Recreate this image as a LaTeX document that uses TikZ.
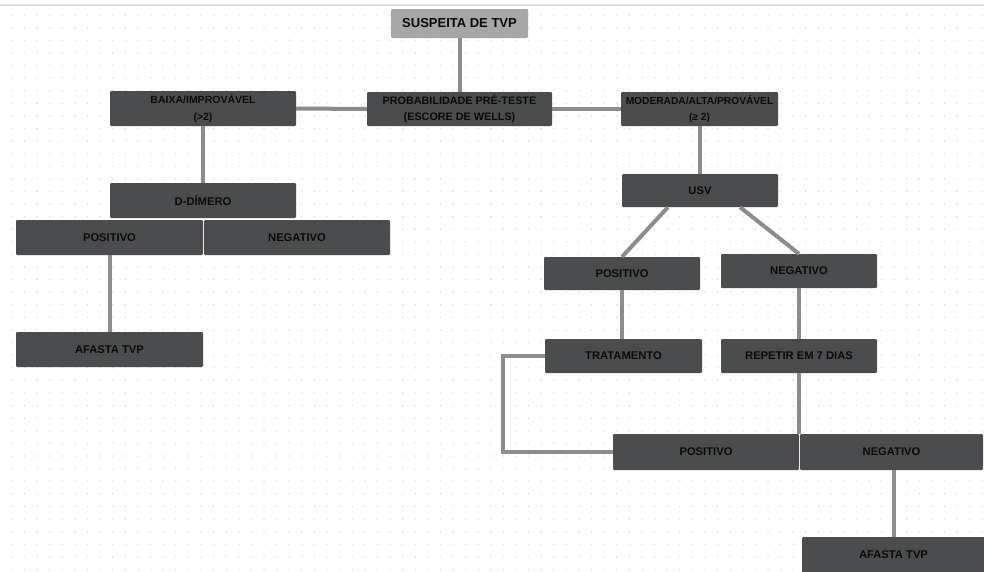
\documentclass[tikz,border=0pt]{standalone}
\usepackage{fontspec}
\setmainfont{Liberation Sans}
\usetikzlibrary{calc}
\definecolor{boxc}{HTML}{4A4C4E}
\definecolor{titlec}{HTML}{A6A6A6}
\definecolor{linec}{HTML}{8C8C8C}
\definecolor{dotc}{HTML}{D2D2D2}
\definecolor{txtc}{HTML}{0A0A0A}
\tikzset{
  box/.style={fill=boxc, draw=none, rounded corners=1.2pt, inner sep=0pt, text=txtc,
    align=center, font=\fontsize{11.2}{16.5}\selectfont\bfseries},
  titlebox/.style={box, fill=titlec, font=\fontsize{13}{15}\selectfont\bfseries},
  conn/.style={draw=linec, line width=4pt, line cap=butt}
}
\begin{document}
\begin{tikzpicture}[x=1pt,y=-1pt]
\useasboundingbox (0,0) rectangle (984,571);
\fill[white] (0,0) rectangle (984,571);
% dot grid
\foreach \i in {0,...,77} {
  \foreach \j in {0,...,44} {
    \fill[dotc] ({12+12.6*\i},{15+12.6*\j}) circle (0.75pt);
  }
}
% top line
\draw[draw=black!12, line width=1.5pt] (0,5) -- (984,5);
% nodes
\node[titlebox, minimum width=137pt, minimum height=29pt] (sus) at (459.5,23.5) {SUSPEITA DE TVP};
\node[box, minimum width=185pt, minimum height=34pt, font=\fontsize{10.8}{16.5}\selectfont\bfseries] (prob) at (459.5,109) {PROBABILIDADE PRÉ-TESTE\\(ESCORE DE WELLS)};
\node[box, minimum width=186pt, minimum height=35pt, font=\fontsize{10.5}{16.5}\selectfont\bfseries] (baixa) at (203,108.5) {BAIXA/IMPROVÁVEL\\(>2)};
\node[box, minimum width=157pt, minimum height=34pt, font=\fontsize{10.2}{16.5}\selectfont\bfseries] (mod) at (699.5,109) {MODERADA/ALTA/PROVÁVEL\\(≥ 2)};
\node[box, minimum width=156pt, minimum height=33pt] (usv) at (700,190.5) {USV};
\node[box, minimum width=186pt, minimum height=35pt] (dd) at (203,200.5) {D-DÍMERO};
\node[box, minimum width=187pt, minimum height=35pt] (pos1) at (109.5,237.5) {POSITIVO};
\node[box, minimum width=186pt, minimum height=35pt] (neg1) at (297,237.5) {NEGATIVO};
\node[box, minimum width=187pt, minimum height=35pt] (af1) at (109.5,349.5) {AFASTA TVP};
\node[box, minimum width=156pt, minimum height=33pt] (pos2) at (622,273.5) {POSITIVO};
\node[box, minimum width=156pt, minimum height=34pt] (neg2) at (799,271) {NEGATIVO};
\node[box, minimum width=157pt, minimum height=34pt] (trat) at (623.5,356) {TRATAMENTO};
\node[box, minimum width=156pt, minimum height=34pt] (rep) at (799,356) {REPETIR EM 7 DIAS};
\node[box, minimum width=186pt, minimum height=36pt] (pos3) at (706,452) {POSITIVO};
\node[box, minimum width=183pt, minimum height=36pt] (neg3) at (891.5,452) {NEGATIVO};
\node[box, minimum width=183pt, minimum height=36pt] (af2) at (893.5,555) {AFASTA TVP};
% connectors
\draw[conn] (sus.south) -- (prob.north);
\draw[conn] (baixa.east) -- (prob.west);
\draw[conn] (prob.east) -- (mod.west);
\draw[conn] (baixa.south) -- (dd.north);
\draw[conn] (pos1.south) -- (af1.north);
\draw[conn] (mod.south) -- (mod.south |- usv.north);
\draw[conn] ($(usv.south west)!0.295!(usv.south east)$) -- (pos2.north);
\draw[conn] ($(usv.south west)!0.756!(usv.south east)$) -- (neg2.north);
\draw[conn] (pos2.south) -- (pos2.south |- trat.north);
\draw[conn] (neg2.south) -- (rep.north);
\draw[conn] (rep.south) -- (rep.south |- pos3.north);
\draw[conn] (trat.west) -- ++(-42,0) |- (pos3.west);
\draw[conn] (af2.north |- neg3.south) -- (af2.north);
\end{tikzpicture}
\end{document}
